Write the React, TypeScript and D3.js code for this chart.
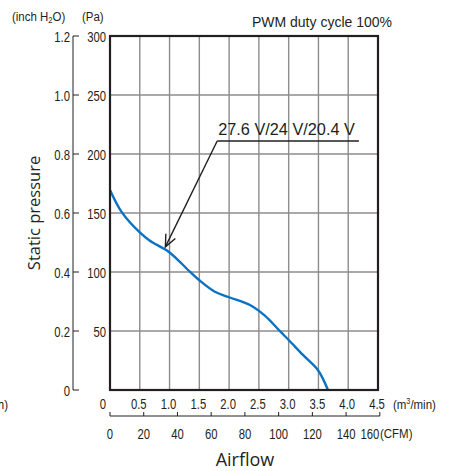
import * as d3 from 'd3'

// airflow (m³/min) vs static pressure (Pa)
const FLOW = [0, 0.2, 0.5, 0.67, 0.99, 1.34, 1.5, 1.76, 2.0, 2.35, 2.6, 2.87, 3.0, 3.24, 3.49, 3.58, 3.66]
const PRESSURE = [169.5, 150.5, 133.5, 126.5, 117, 100.3, 93, 83.3, 78.6, 72, 63, 49, 42.4, 29.7, 17, 9, 0]

const FLOW_TICKS = [0, 0.5, 1.0, 1.5, 2.0, 2.5, 3.0, 3.5, 4.0, 4.5]
const CFM_TICKS = [0, 20, 40, 60, 80, 100, 120, 140, 160]
const PA_TICKS = [50, 100, 150, 200, 250, 300]
const INCH_TICKS = [0, 0.2, 0.4, 0.6, 0.8, 1.0, 1.2]

const CFM_TO_M3MIN = 0.0283168
const INK = '#231f20'
const BLUE = '#0a72c4'
const SANS = '"Liberation Sans", Arial, sans-serif'
const TITLE = '"Open Sans", "Noto Sans", sans-serif'

const W = 452
const H = 471
const plot = { l: 110, r: 378, t: 36, b: 390 }

// condensed text: regular sans squeezed horizontally
function NText({ x, y, size = 15.5, sx = 0.73, anchor = 'start', children }: {
  x: number
  y: number
  size?: number
  sx?: number
  anchor?: 'start' | 'middle' | 'end'
  children: React.ReactNode
}) {
  return (
    <text
      transform={`translate(${x},${y}) scale(${sx},1)`}
      textAnchor={anchor}
      fontFamily={SANS}
      fontSize={size}
      fill={INK}
    >
      {children}
    </text>
  )
}

export default function App() {
  const x = d3.scaleLinear().domain([0, 4.5]).range([plot.l, plot.r])
  const y = d3.scaleLinear().domain([0, 300]).range([plot.b, plot.t])
  const yInch = d3.scaleLinear().domain([0, 1.2]).range([plot.b, plot.t])
  const xCfm = (v: number) => x(v * CFM_TO_M3MIN)

  const pts = FLOW.map((f, i) => [f, PRESSURE[i]] as [number, number])
  const line = d3
    .line<[number, number]>()
    .x(d => x(d[0]))
    .y(d => y(d[1]))
    .curve(d3.curveCatmullRom.alpha(0.5))

  // annotation: label anchor + arrow tip on the curve
  const tipFlow = 0.93
  const tipP = d3.scaleLinear().domain(FLOW).range(PRESSURE)(tipFlow)
  const tx = x(tipFlow)
  const ty = y(tipP) - 3
  const ax = x(1.8)
  const ay = y(211)
  const ang = Math.atan2(ay - ty, ax - tx)
  const wing = (s: number) => {
    const a = ang + s * 0.42
    return `${tx + 13 * Math.cos(a)},${ty + 13 * Math.sin(a)}`
  }

  const cfmY = 416

  return (
    <svg
      width={W}
      height={H}
      style={{ position: 'absolute', left: 0, top: 0, background: '#fff' }}
    >
      {/* grid */}
      {FLOW_TICKS.slice(1, -1).map(v => (
        <line key={'gx' + v} x1={x(v)} x2={x(v)} y1={plot.t} y2={plot.b} stroke="#8c8c8c" strokeWidth={1.4} />
      ))}
      {PA_TICKS.slice(0, -1).map(v => (
        <line key={'gy' + v} x1={plot.l} x2={plot.r} y1={y(v)} y2={y(v)} stroke="#8c8c8c" strokeWidth={1.4} />
      ))}

      {/* curve */}
      <path d={line(pts) ?? ''} fill="none" stroke={BLUE} strokeWidth={2.4} />

      {/* frame */}
      <rect
        x={plot.l}
        y={plot.t}
        width={plot.r - plot.l}
        height={plot.b - plot.t}
        fill="none"
        stroke={INK}
        strokeWidth={2.2}
      />

      {/* Pa labels */}
      {PA_TICKS.map(v => (
        <NText key={'pa' + v} x={106} y={y(v) + 5.5} anchor="end">{v}</NText>
      ))}

      {/* inch H2O axis */}
      <line x1={73} x2={73} y1={plot.t} y2={plot.b} stroke={INK} strokeWidth={1} />
      {INCH_TICKS.map(v => (
        <g key={'in' + v}>
          <line x1={73} x2={79} y1={yInch(v)} y2={yInch(v)} stroke={INK} strokeWidth={1} />
          <NText x={70} y={yInch(v) + 5.5} anchor="end">{v === 0 ? '0' : v.toFixed(1)}</NText>
        </g>
      ))}
      <NText x={12} y={21} size={13.5} sx={0.85}>
        (inch H<tspan fontSize={9} dy={2}>2</tspan><tspan dy={-2}>O)</tspan>
      </NText>
      <NText x={82} y={21} size={13.5} sx={0.85}>(Pa)</NText>
      <NText x={8} y={409} size={13.5} sx={0.85} anchor="end">(inch)</NText>

      {/* m3/min labels */}
      {FLOW_TICKS.map(v => (
        <NText key={'fx' + v} x={v === 0 ? x(v) - 7 : x(v) - 1} y={409} anchor="middle">
          {v === 0 ? '0' : v.toFixed(1)}
        </NText>
      ))}
      <NText x={393} y={409} size={13.5} sx={0.85}>
        (m<tspan fontSize={8.5} dy={-5}>3</tspan><tspan dy={5}>/min)</tspan>
      </NText>

      {/* CFM axis */}
      <line x1={plot.l} x2={xCfm(160)} y1={cfmY} y2={cfmY} stroke={INK} strokeWidth={1} />
      {CFM_TICKS.map(v => (
        <g key={'c' + v}>
          <line x1={xCfm(v)} x2={xCfm(v)} y1={cfmY} y2={cfmY - 4} stroke={INK} strokeWidth={1} />
          <NText x={v === 160 ? xCfm(v) - 10 : xCfm(v)} y={439} anchor="middle">{v}</NText>
        </g>
      ))}
      <NText x={380} y={438} size={13.5} sx={0.85}>(CFM)</NText>

      {/* axis titles */}
      <text x={245} y={466} textAnchor="middle" fontFamily={TITLE} fontSize={18} fill={INK}>Airflow</text>
      <text
        transform={`translate(40,${(plot.t + plot.b) / 2}) rotate(-90)`}
        textAnchor="middle"
        fontFamily={TITLE}
        fontSize={16.5}
        fill={INK}
      >
        Static pressure
      </text>
      <text x={392} y={27} textAnchor="end" fontFamily={SANS} fontSize={14} fill={INK}>PWM duty cycle 100%</text>

      {/* annotation */}
      <text x={ax + 1} y={ay - 6} fontFamily={SANS} fontSize={16.3} fill={INK}>27.6 V/24 V/20.4 V</text>
      <line x1={ax} x2={x(4.18)} y1={ay} y2={ay} stroke={INK} strokeWidth={1.4} />
      <line x1={ax} y1={ay} x2={tx} y2={ty} stroke={INK} strokeWidth={1.4} />
      <polyline points={`${wing(1)} ${tx},${ty} ${wing(-1)}`} fill="none" stroke={INK} strokeWidth={1.4} />
    </svg>
  )
}
